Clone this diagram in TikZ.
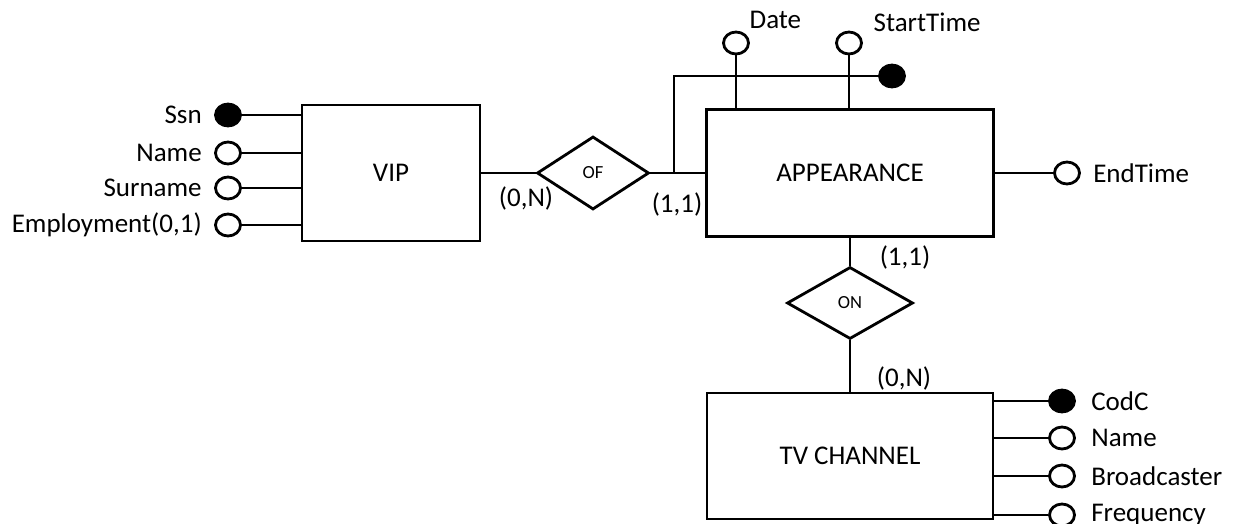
\documentclass[tikz,border=0pt]{standalone}
\usepackage{fontspec}
\setmainfont{Carlito}
\usetikzlibrary{shapes.geometric}

\begin{document}
\begin{tikzpicture}[x=1pt, y=-1pt, line width=2.8pt,
            every node/.style={font=\fontsize{27}{32}\selectfont},
            entity/.style={draw, rectangle, inner sep=0pt},
            relation/.style={draw, diamond, inner sep=0pt, aspect=1.6, font=\fontsize{18.5}{22}\selectfont},
            attr/.style={draw, ellipse, fill=white, minimum width=25pt, minimum height=22pt, inner sep=0pt},
            keyattr/.style={attr, fill=black},
            lbl/.style={inner sep=2pt, label distance=9pt}]
            \useasboundingbox (0,0) rectangle (1234,524);
            % entities and relationships
            \node[entity, minimum width=178pt, minimum height=136pt] (vip) at (391,173) {VIP};
            \node[entity, minimum width=287pt, minimum height=127pt] (app) at (850,173) {APPEARANCE};
            \node[entity, minimum width=286pt, minimum height=126pt] (tv) at (850,456) {TV CHANNEL};
            \node[relation, minimum width=112pt, minimum height=73pt] (of) at (593,173) {OF};
            \node[relation, minimum width=126pt, minimum height=72pt] (on) at (850,303) {ON};
            \draw (vip) -- (of);
            \draw (of) -- (app);
            \draw (app) -- (on);
            \draw (on) -- (tv);
            % cardinalities
            \node (cvip) at (526,198) {(0,N)};
            \node (capp) at (677,204) {(1,1)};
            \node (capp2) at (905,257) {(1,1)};
            \node (ctv) at (904,378) {(0,N)};
            % VIP attributes
            \node[keyattr, label={[lbl]left:Ssn}] (ssn) at (228,115) {};
            \node[attr, label={[lbl]left:Name}] (vname) at (228,153) {};
            \node[attr, label={[lbl]left:Surname}] (vsurname) at (228,188) {};
            \node[attr, label={[lbl]left:Employment(0,1)}] (vjob) at (228,225) {};
            \foreach \a in {ssn,vname,vsurname,vjob} \draw (vip.west |- \a) -- (\a);
            % APPEARANCE attributes
            \node[attr, label={[lbl, label distance=0pt, xshift=1pt, yshift=2pt]above right:Date}] (date) at (736,43) {};
            \node[attr, label={[lbl, label distance=0pt, xshift=12pt, yshift=-1pt]above right:StartTime}] (start) at (849,43) {};
            \node[attr, label={[lbl]right:EndTime}] (endt) at (1067,173) {};
            \node[keyattr] (akey) at (892,76) {};
            \coordinate (idj) at (674,173);
            \draw (idj) |- (akey);
            \draw (date) -- (date |- app.north);
            \draw (start) -- (start |- app.north);
            \draw (app.east |- endt) -- (endt);
            % TV CHANNEL attributes
            \node[keyattr, label={[lbl, label distance=12pt]right:CodC}] (codc) at (1062,401) {};
            \node[attr, label={[lbl, label distance=12pt]right:Name}] (tname) at (1062,438) {};
            \node[attr, label={[lbl, label distance=12pt]right:Broadcaster}] (bcast) at (1062,476) {};
            \node[attr, label={[lbl, label distance=12pt]right:Frequency}] (freq) at (1062,515) {};
            \foreach \a in {codc,tname,bcast,freq} \draw (tv.east |- \a) -- (\a);
        \end{tikzpicture}
\end{document}
